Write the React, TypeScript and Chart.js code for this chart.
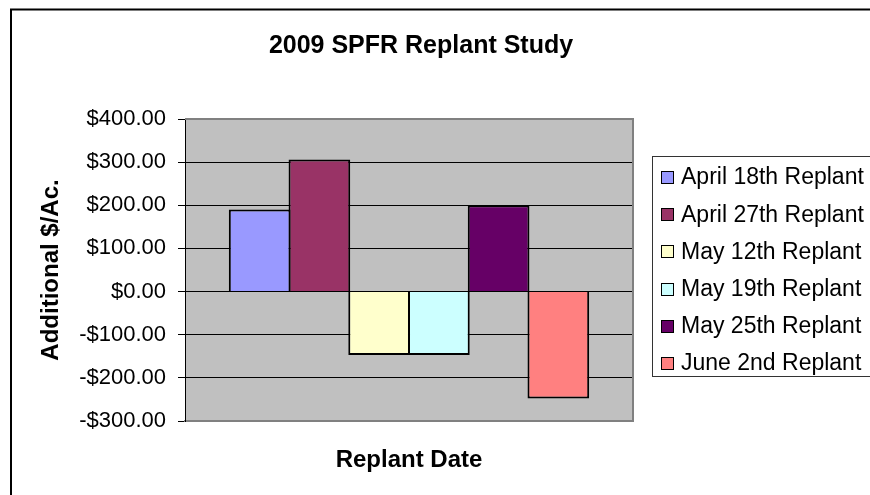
import React, { useEffect, useRef } from "react";
import { Chart, registerables } from "chart.js";

Chart.register(...registerables);

const chartTitle = "2009 SPFR Replant Study";
const xAxisTitle = "Replant Date";
const yAxisTitle = "Additional $/Ac.";
const categories = [""];
const seriesNames = [
  "April 18th Replant",
  "April 27th Replant",
  "May 12th Replant",
  "May 19th Replant",
  "May 25th Replant",
  "June 2nd Replant",
];
const seriesValues = [190, 306, -147, -147, 200, -248];
const seriesColors = ["#9999FF", "#993366", "#FFFFCC", "#CCFFFF", "#660066", "#FF8080"];
const yMin = -300;
const yMax = 400;
const yStep = 100;

const FONT = "'Liberation Sans', Arial, sans-serif";

const fmt = (v: number) => (v < 0 ? "-$" : "$") + Math.abs(v).toFixed(2);

const decorPlugin = {
  id: "decor",
  beforeDraw(chart: any) {
    const { ctx, chartArea } = chart;
    ctx.save();
    ctx.fillStyle = "#ffffff";
    ctx.fillRect(0, 0, chart.width, chart.height);
    ctx.fillStyle = "#C0C0C0";
    ctx.fillRect(chartArea.left, chartArea.top, chartArea.right - chartArea.left, chartArea.bottom - chartArea.top);
    ctx.restore();
  },
  afterDraw(chart: any) {
    const { ctx, chartArea } = chart;
    ctx.save();
    ctx.strokeStyle = "#808080";
    ctx.lineWidth = 2;
    ctx.beginPath();
    ctx.moveTo(chartArea.left, chartArea.top);
    ctx.lineTo(chartArea.right, chartArea.top);
    ctx.lineTo(chartArea.right, chartArea.bottom);
    ctx.stroke();
    ctx.strokeStyle = "#000";
    ctx.lineWidth = 2;
    ctx.strokeRect(11, 9.5, 900, 600);
    ctx.fillStyle = "#000";
    ctx.font = `bold 25px ${FONT}`;
    ctx.textAlign = "center";
    ctx.textBaseline = "alphabetic";
    ctx.fillText(chartTitle, 421, 53);
    const lx = 652, ly = 156;
    ctx.strokeStyle = "#333";
    ctx.lineWidth = 1;
    ctx.strokeRect(lx + 0.5, ly + 0.5, 300, 220);
    ctx.font = `23px ${FONT}`;
    ctx.textAlign = "left";
    ctx.textBaseline = "middle";
    chart.data.datasets.forEach((ds: any, i: number) => {
      const cy = 177 + i * 37.2;
      ctx.fillStyle = ds.backgroundColor;
      ctx.fillRect(661, Math.round(cy) - 6, 13, 13);
      ctx.strokeStyle = "#000";
      ctx.lineWidth = 1;
      ctx.strokeRect(661.5, Math.round(cy) - 5.5, 12, 12);
      ctx.fillStyle = "#000";
      ctx.fillText(ds.label, 681, cy + 1);
    });
    ctx.restore();
  },
};

export default function App() {
  const ref = useRef<HTMLCanvasElement>(null);
  useEffect(() => {
    document.body.style.margin = "0";
    const canvas = ref.current!;
    const chart = new Chart(canvas, {
      type: "bar",
      data: {
        labels: categories,
        datasets: seriesNames.map((name, i) => ({
          label: name,
          data: [seriesValues[i]],
          backgroundColor: seriesColors[i],
          borderColor: "#000",
          borderWidth: 2,
          categoryPercentage: 0.8,
          barPercentage: 1.033,
        })),
      },
      options: {
        responsive: false,
        animation: false,
        devicePixelRatio: 1,
        layout: { padding: { left: 0, top: 119, right: 237, bottom: 0 } },
        plugins: {
          legend: { display: false },
          title: { display: false },
          tooltip: { enabled: false },
        },
        scales: {
          x: {
            ticks: { display: false },
            grid: { display: false, drawTicks: false },
            border: { color: "#808080", width: 2 },
            title: {
              display: true,
              text: xAxisTitle,
              color: "#000",
              font: { family: FONT, size: 24, weight: "bold" },
              padding: { top: 0, bottom: 20 },
            },
            afterFit: (s: any) => {
              s.height = 74;
            },
          },
          y: {
            min: yMin,
            max: yMax,
            ticks: {
              stepSize: yStep,
              color: "#000",
              font: { family: FONT, size: 22 },
              padding: 12,
              callback: (v: any) => fmt(Number(v)),
            },
            grid: {
              color: (c: any) => (c.tick && (c.tick.value === yMax || c.tick.value === yMin) ? "#808080" : "#000"),
              lineWidth: 1,
              drawTicks: true,
              tickLength: 7,
              tickColor: "#000",
              tickWidth: 1,
            },
            border: { color: "#000", width: 1 },
            title: {
              display: true,
              text: yAxisTitle,
              color: "#000",
              font: { family: FONT, size: 24, weight: "bold" },
              padding: { top: 37, bottom: 0 },
            },
            afterFit: (s: any) => {
              s.width = 185;
            },
          },
        },
      },
      plugins: [decorPlugin],
    });
    return () => chart.destroy();
  }, []);
  return (
    <div style={{ width: 870, height: 495 }}>
      <canvas ref={ref} width={870} height={495} style={{ display: "block" }} />
    </div>
  );
}
